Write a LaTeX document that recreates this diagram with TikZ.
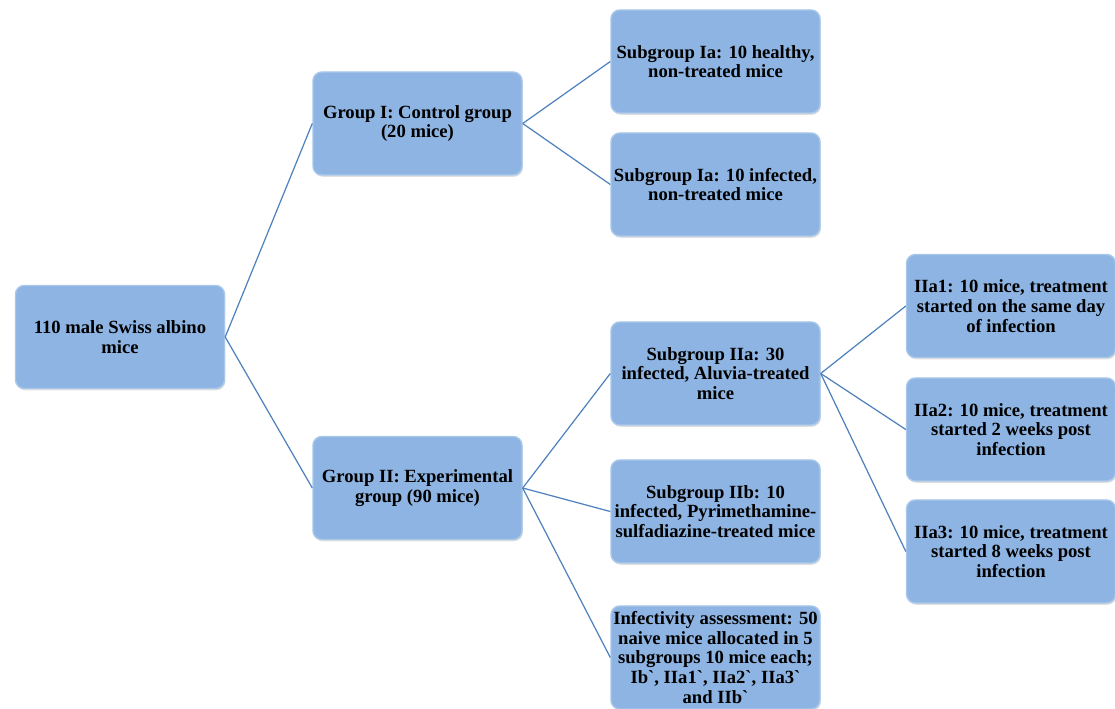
\documentclass[tikz,border=0pt]{standalone}
\usepackage{fontspec}
\setmainfont{Liberation Serif}
\usetikzlibrary{shadows}

\definecolor{boxfill}{RGB}{141,180,226}
\definecolor{boxline}{RGB}{168,199,234}
\definecolor{linkline}{RGB}{79,129,189}

\newcommand{\tick}{\textasciigrave}

\begin{document}
\begin{tikzpicture}

      \useasboundingbox (0,0) rectangle (22.3,-14.18);

      \begin{scope}[every node/.style={rectangle, rounded corners=5pt, fill=boxfill, draw=boxline, line width=0.8pt,
          minimum width=4.18cm, minimum height=2.06cm, align=center, inner sep=1pt,
          drop shadow={shadow xshift=0.5pt, shadow yshift=-1pt, opacity=0.25},
          font=\fontsize{10.6}{11.2}\selectfont\bfseries}]
        \node (mice) at (2.4,-6.74)   {110 male Swiss albino\\mice};
        \node (g1)   at (8.35,-2.47)  {Group I: Control group\\(20 mice)};
        \node (g2)   at (8.35,-9.76)  {Group II: Experimental\\group (90 mice)};
        \node (ia)   at (14.31,-1.23) {Subgroup Ia: 10 healthy,\\non-treated mice};
        \node (ib)   at (14.31,-3.69) {Subgroup Ia: 10 infected,\\non-treated mice};
        \node (iia)  at (14.31,-7.47) {Subgroup IIa: 30\\infected, Aluvia-treated\\mice};
        \node (iib)  at (14.31,-10.23) {Subgroup IIb: 10\\infected, Pyrimethamine-\\sulfadiazine-treated mice};
        \node (inf)  at (14.31,-13.15) {Infectivity assessment: 50\\naive mice allocated in 5\\subgroups 10 mice each;\\Ib\tick, IIa1\tick, IIa2\tick, IIa3\tick\\and IIb\tick};
        \node (a1)   at (20.22,-6.12) {IIa1: 10 mice, treatment\\started on the same day\\of infection};
        \node (a2)   at (20.22,-8.59) {IIa2: 10 mice, treatment\\started 2 weeks post\\infection};
        \node (a3)   at (20.22,-11.03) {IIa3: 10 mice, treatment\\started 8 weeks post\\infection};
      \end{scope}

      \begin{scope}[every path/.style={draw=linkline, line width=0.7pt}]
        \path (mice.east) -- (g1.west);
        \path (mice.east) -- (g2.west);
        \path (g1.east)   -- (ia.west);
        \path (g1.east)   -- (ib.west);
        \path (g2.east)   -- (iia.west);
        \path (g2.east)   -- (iib.west);
        \path (g2.east)   -- (inf.west);
        \path (iia.east)  -- (a1.west);
        \path (iia.east)  -- (a2.west);
        \path (iia.east)  -- (a3.west);
      \end{scope}

    \end{tikzpicture}
\end{document}
